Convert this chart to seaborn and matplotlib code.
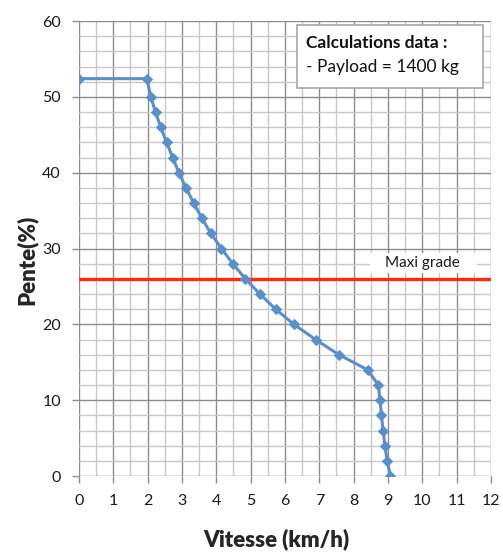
import matplotlib
matplotlib.use("Agg")
import matplotlib.pyplot as plt
import seaborn as sns
import pandas as pd
from matplotlib.patches import Rectangle
from matplotlib.ticker import MultipleLocator

# Vitesse (km/h) pour chaque pente (%)
vitesse = [0, 1.98, 2.09, 2.23, 2.38, 2.55, 2.73, 2.91, 3.12, 3.34, 3.58, 3.84,
           4.15, 4.48, 4.85, 5.27, 5.73, 6.26, 6.89, 7.57, 8.41, 8.72, 8.77,
           8.81, 8.86, 8.91, 8.98, 9.07]
pente = [52.4, 52.4, 50, 48, 46, 44, 42, 40, 38, 36, 34, 32, 30, 28, 26, 24,
         22, 20, 18, 16, 14, 12, 10, 8, 6, 4, 2, 0]
maxi_grade = 26
x_ticks = list(range(0, 13))
y_ticks = list(range(0, 61, 10))

df = pd.DataFrame({"Vitesse": vitesse, "Pente": pente})

sns.set_theme(style="white")
plt.rcParams["font.family"] = ["Lato", "DejaVu Sans"]

fig = plt.figure(figsize=(5.03, 5.53), dpi=100)
ax = fig.add_axes([0.157, 0.1392, 0.819, 0.8228])

sns.lineplot(data=df, x="Vitesse", y="Pente", sort=False, ax=ax,
             color="#5B8FC9", linewidth=2.2, marker="D", markersize=5.5,
             markeredgecolor="#5B8FC9", zorder=4)

ax.axhline(maxi_grade, color="#FF2A0A", linewidth=2.4, zorder=3)

ax.set_xlim(0, 12)
ax.set_ylim(0, 60)
ax.set_xticks(x_ticks)
ax.set_yticks(y_ticks)
ax.xaxis.set_minor_locator(MultipleLocator(0.5))
ax.yaxis.set_minor_locator(MultipleLocator(2))
ax.grid(which="major", color="#8C8C8C", linewidth=1.0)
ax.grid(which="minor", color="#C8C8C8", linewidth=1.0)
ax.set_axisbelow(True)
for s in ax.spines.values():
    s.set_visible(False)

ax.tick_params(axis="both", which="major", length=5, width=1, color="#8C8C8C",
               labelsize=11.5, labelcolor="#1A1A1A", pad=8, bottom=True, left=True)
ax.tick_params(axis="both", which="minor", length=0)

ax.set_xlabel("Vitesse (km/h)", fontsize=16, fontweight="heavy", va="center")
ax.set_ylabel("Pente(%)", fontsize=16, fontweight="heavy", va="center")
ax.xaxis.set_label_coords(0.478, -0.14)
ax.yaxis.set_label_coords(-0.126, 0.475)

# etiquette "Maxi grade" sur fond blanc
ax.add_patch(Rectangle((8.48, 26.8), 3.11, 2.6, facecolor="white",
                       edgecolor="none", zorder=2.5))
ax.text(10.0, 28.1, "Maxi grade", ha="center", va="center",
        fontsize=11, color="#1A1A1A", zorder=5)

# cadre "Calculations data"
ax.add_patch(Rectangle((6.35, 51.2), 5.42, 8.3, facecolor="white",
                       edgecolor="#A6A6A6", linewidth=1.2, zorder=5))
ax.text(6.62, 57.1, "Calculations data :", ha="left", va="center",
        fontsize=12.5, fontweight="bold", color="#111111", zorder=6)
ax.text(6.62, 53.9, "- Payload = 1400 kg", ha="left", va="center",
        fontsize=12.5, color="#111111", zorder=6)

fig.savefig("out.png", dpi=100)
